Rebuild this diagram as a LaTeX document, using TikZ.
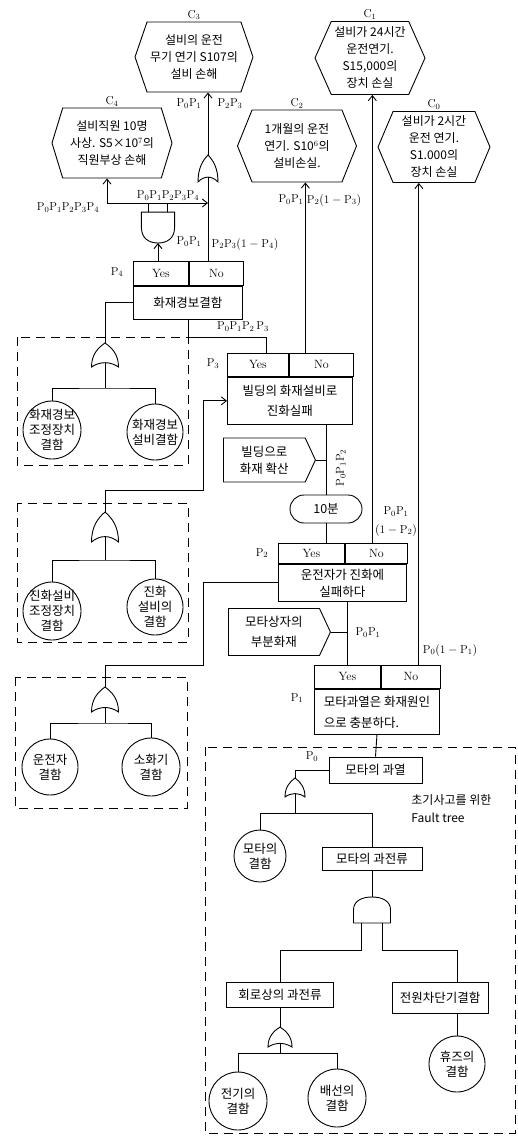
\documentclass[tikz,border=0pt]{standalone}
\usepackage{fontspec}
\newfontfamily\kr{Noto Sans CJK KR}
\usetikzlibrary{arrows.meta,shapes.symbols}

\tikzset{
  pics/orgate/.style={code={
    \draw (0,0) .. controls (7,5) and (13.5,12) .. (13.5,25)
      .. controls (5,19) and (-5,19) .. (-13.5,25)
      .. controls (-13.5,12) and (-7,5) .. cycle;
    \coordinate (-out) at (0,0);
    \coordinate (-in) at (0,20.5);
  }},
  pics/andgate/.style={code={
    \draw (-18,26) -- (-18,13) .. controls (-18,4) and (-10,0) .. (0,0)
      .. controls (10,0) and (18,4) .. (18,13) -- (18,26) -- cycle;
    \coordinate (-out) at (0,0);
    \coordinate (-inl) at (-10,26);
    \coordinate (-inr) at (10,26);
  }},
}

\begin{document}
\begin{tikzpicture}[x=1pt, y=-1pt, line width=.9pt, >={Straight Barb[length=5pt,width=8pt]},
  every node/.style={inner sep=1pt},
  txt/.style={font=\kr\fontsize{12.5}{18}\selectfont, align=center},
  box/.style={txt, draw},
  cell/.style={draw, font=\fontsize{12}{14}\selectfont},
  hexa/.style={draw, signal, signal to=west and east, txt, font=\kr\fontsize{12}{17}\selectfont},
  tag/.style={draw, signal, signal to=east, signal pointer angle=130, txt, font=\kr\fontsize{12.5}{17}\selectfont},
  basic/.style={draw, circle, inner sep=-6pt, txt, font=\kr\fontsize{12.5}{15}\selectfont},
  prob/.style={font=\fontsize{11.5}{13}\selectfont},
  every label/.style={prob},
  frame/.style={dash pattern=on 9pt off 6pt}]
\useasboundingbox (0,0) rectangle (517,1146);

% consequences
\node[hexa, signal pointer angle=142, minimum width=118, minimum height=70, label=above:$\mathrm{C_3}$] (c3) at (194,57) {설비의 운전\\무기 연기 S107의\\설비 손해};
\node[hexa, signal pointer angle=146, minimum width=120, minimum height=70, label=above:$\mathrm{C_4}$] (c4) at (112,143) {설비직원 10명\\사상. S5×10$^7$의\\직원부상 손해};
\node[hexa, signal pointer angle=132, minimum width=110, minimum height=73, label=above:$\mathrm{C_1}$] (c1) at (370,58) {설비가 24시간\\운전연기.\\S15,000의\\장치 손실};
\node[hexa, signal pointer angle=136, minimum width=119, minimum height=72, label=above:$\mathrm{C_2}$] (c2) at (297,146) {1개월의 운전\\연기. S10$^6$의\\설비손실.};
\node[hexa, signal pointer angle=134, minimum width=112, minimum height=71, label=above:$\mathrm{C_0}$] (c0) at (434,147) {설비가 2시간\\운전 연기.\\S1.000의\\장치 손실};

% decision boxes
\node[cell, minimum width=55, minimum height=24, anchor=north west] (p4y) at (133,261) {Yes};
\node[cell, minimum width=54, minimum height=24, anchor=north west] (p4n) at (p4y.north east) {No};
\node[box, minimum width=109, minimum height=33, anchor=north west] (p4) at (p4y.south west) {화재경보결함};

\node[cell, minimum width=61, minimum height=23, anchor=north west] (p3y) at (227,353) {Yes};
\node[cell, minimum width=64, minimum height=23, anchor=north west] (p3n) at (p3y.north east) {No};
\node[box, font=\kr\fontsize{12.5}{20}\selectfont, minimum width=125, minimum height=47, anchor=north west] (p3) at (p3y.south west) {빌딩의 화재설비로\\진화실패};

\node[cell, minimum width=66, minimum height=20, anchor=north west] (p2y) at (278,543) {Yes};
\node[cell, minimum width=62, minimum height=20, anchor=north west] (p2n) at (p2y.north east) {No};
\node[box, font=\kr\fontsize{12.5}{17}\selectfont, minimum width=128, minimum height=37, anchor=north west] (p2) at (p2y.south west) {운전자가 진화에\\실패하다};

\node[cell, minimum width=66, minimum height=23, anchor=north west] (p1y) at (314,665) {Yes};
\node[cell, minimum width=59, minimum height=23, anchor=north west] (p1n) at (p1y.north east) {No};
\node[box, font=\kr\fontsize{12.5}{21}\selectfont, align=left, minimum width=125, minimum height=45, anchor=north west] (p1) at (p1y.south west) {모타과열은 화재원인\\으로 충분하다.};

\node[box, rounded corners=14pt, minimum width=72, minimum height=28] (t10) at (326,509) {10분};
\node[tag, minimum width=92, minimum height=44, anchor=west] (s1) at (223,460) {빌딩으로\\화재 확산};
\node[tag, font=\kr\fontsize{12.5}{20}\selectfont, minimum width=102, minimum height=47, anchor=west] (s2) at (228,632) {모타상자의\\부분화재};

% fault trees of the branches
\draw[frame] (17,337) rectangle (188,465);
\draw[frame] (17,503) rectangle (188,642);
\draw[frame] (15,677) rectangle (187,808);
\draw[frame] (205,747) rectangle (515,1133);

\node[basic, minimum size=58] (a1) at (52,430) {화재경보\\조정장치\\결함};
\node[basic, minimum size=56] (a2) at (155,432) {화재경보\\설비결함};
\node[basic, minimum size=58] (b1) at (52,611) {진화설비\\조정장치\\결함};
\node[basic, minimum size=56] (b2) at (155,607) {진화\\설비의\\결함};
\node[basic, minimum size=56] (d1) at (50,767) {운전자\\결함};
\node[basic, minimum size=58] (d2) at (151,767) {소화기\\결함};

% initial event fault tree
\node[box, minimum width=93, minimum height=26] (m1) at (375.5,770) {모타의 과열};
\node[basic, minimum size=52] (m2) at (260,856) {모타의\\결함};
\node[box, minimum width=100, minimum height=23] (m3) at (372,858.5) {모타의 과전류};
\node[box, minimum width=107, minimum height=25] (m4) at (280,994.5) {회로상의 과전류};
\node[box, minimum width=96, minimum height=31] (m5) at (440,997.5) {전원차단기결함};
\node[basic, minimum size=58] (e1) at (238,1101) {전기의\\결함};
\node[basic, minimum size=58] (e2) at (337,1098) {배선의\\결함};
\node[basic, minimum size=56] (e3) at (457,1064) {휴즈의\\결함};
\node[txt, align=left, font=\kr\fontsize{12}{18}\selectfont, anchor=west] (ft) at (410,809) {초기사고를 위한\\Fault tree};

% gates
\pic[xscale=.74, yscale=1.08] (g0) at (208,155) {orgate};
\pic[xscale=.92, yscale=-1.19] (g4) at (158,243) {andgate};
\pic[yscale=.96] (g1) at (105,343) {orgate};
\pic[yscale=1.2] (g2) at (105,512) {orgate};
\pic (g3) at (105,687) {orgate};
\pic[xscale=.74, yscale=.76] (g5) at (295,778) {orgate};
\pic[xscale=1.03] (g6) at (372,897) {andgate};
\pic[xscale=.89, yscale=.8] (g7) at (280,1027) {orgate};

% connectors, top part
\draw[->] (g0-out) -- (g0-out |- c3.south);
\draw (g0-in) -- (g0-in |- p4n.north);
\coordinate (j0) at (107,203);
\draw[<->] (j0 |- c4.south) -- (j0) -- (j0 -| g0-in);
\draw (g4-inl) -- (g4-inl |- j0);
\draw (g4-inr) -- (g4-inr |- j0);
\draw[->] (g4-out |- p4y.north) -- (g4-out);

\draw (p4.west) -| (g1-out);
\coordinate (j1) at (105,388);
\draw (g1-in) -- (j1);
\draw (a1.north) |- (j1) -| (a2.north);
\coordinate (j3) at (266,337);
\draw (p4.south) |- (j3) -- (j3 |- p3y.north);

\coordinate (j2) at (203,490);
\draw[->] (g2-out) |- (j2) |- (p3.west);
\coordinate (j2b) at (105,560);
\draw (g2-in) -- (j2b);
\draw (b1.north) |- (j2b) -| (b2.north);
\coordinate (n3) at ([xshift=-16pt]p3n.north);
\draw[->] (n3) -- (n3 |- c2.south);

\draw (t10.north) -- (t10.north |- p3.south);
\draw (t10.south) -- (t10.south |- p2y.north);
\draw (s1.east) -- (s1.east -| t10);
\coordinate (n2) at ([xshift=-4pt]p2n.north);
\draw[->] (n2) -- (n2 |- c1.south);

\coordinate (j5) at (203,665);
\draw (g3-out) |- (j5) |- (p2.west);
\coordinate (j5b) at (105,723);
\draw (g3-in) -- (j5b);
\draw (d1.north) |- (j5b) -| (d2.north);

\draw (p1y.north) -- (p1y.north |- p2.south);
\draw (s2.east) -- (s2.east -| p1y.north);
\coordinate (n1) at ([xshift=8pt]p1n.north);
\draw[->] (n1) -- (n1 |- c0.south);

% connectors, initial event
\draw (p1.south) -- (m1.north);
\draw (g5-out) |- (m1.west);
\coordinate (j6) at (295,813);
\draw (g5-in) -- (j6);
\draw (m2.north) |- (j6) -| (m3.north);
\draw (m3.south) -- (g6-out);
\coordinate (j7) at (372,950);
\draw (g6-inl) -- (g6-inl |- j7) -| (m4.north);
\draw (g6-inr) -- (g6-inr |- j7) -| (m5.north -| e3);
\draw (m4.south) -- (g7-out);
\coordinate (j8) at (280,1053);
\draw (g7-in) -- (j8);
\draw (e1.north) |- (j8) -| (e2.north);
\draw (m5.south -| e3) -- (e3.north);

% probabilities
\node[prob] (q1) at (189,104) {$\mathrm{P_0P_1}$};
\node[prob] (q2) at (230,104) {$\mathrm{P_2P_3}$};
\node[prob] (q3) at (68,208) {$\mathrm{P_0P_1P_2P_3P_4}$};
\node[prob] (q4) at (168,196) {$\mathrm{P_0P_1P_2P_3P_4}$};
\node[prob] (q5) at (189,242) {$\mathrm{P_0P_1}$};
\node[prob] (q6) at (245,244) {$\mathrm{P_2P_3(1-P_4)}$};
\node[prob] (q7) at (117,272) {$\mathrm{P_4}$};
\node[prob] (q8) at (243,327) {$\mathrm{P_0P_1P_2\,P_3}$};
\node[prob] (q9) at (213,364) {$\mathrm{P_3}$};
\node[prob] (q10) at (291,200) {$\mathrm{P_0P_1}$};
\node[prob] (q11) at (334,200) {$\mathrm{P_2(1-P_3)}$};
\node[prob, rotate=90] (q12) at (341,468) {$\mathrm{P_0P_1P_2}$};
\node[prob] (q13) at (396,512) {$\mathrm{P_0P_1}$};
\node[prob] (q14) at (396,530) {$\mathrm{(1-P_2)}$};
\node[prob] (q15) at (262,553) {$\mathrm{P_2}$};
\node[prob] (q16) at (368,633) {$\mathrm{P_0P_1}$};
\node[prob] (q17) at (450,650) {$\mathrm{P_0(1-P_1)}$};
\node[prob] (q18) at (297,698) {$\mathrm{P_1}$};
\node[prob] (q19) at (312,757) {$\mathrm{P_0}$};
\end{tikzpicture}
\end{document}
